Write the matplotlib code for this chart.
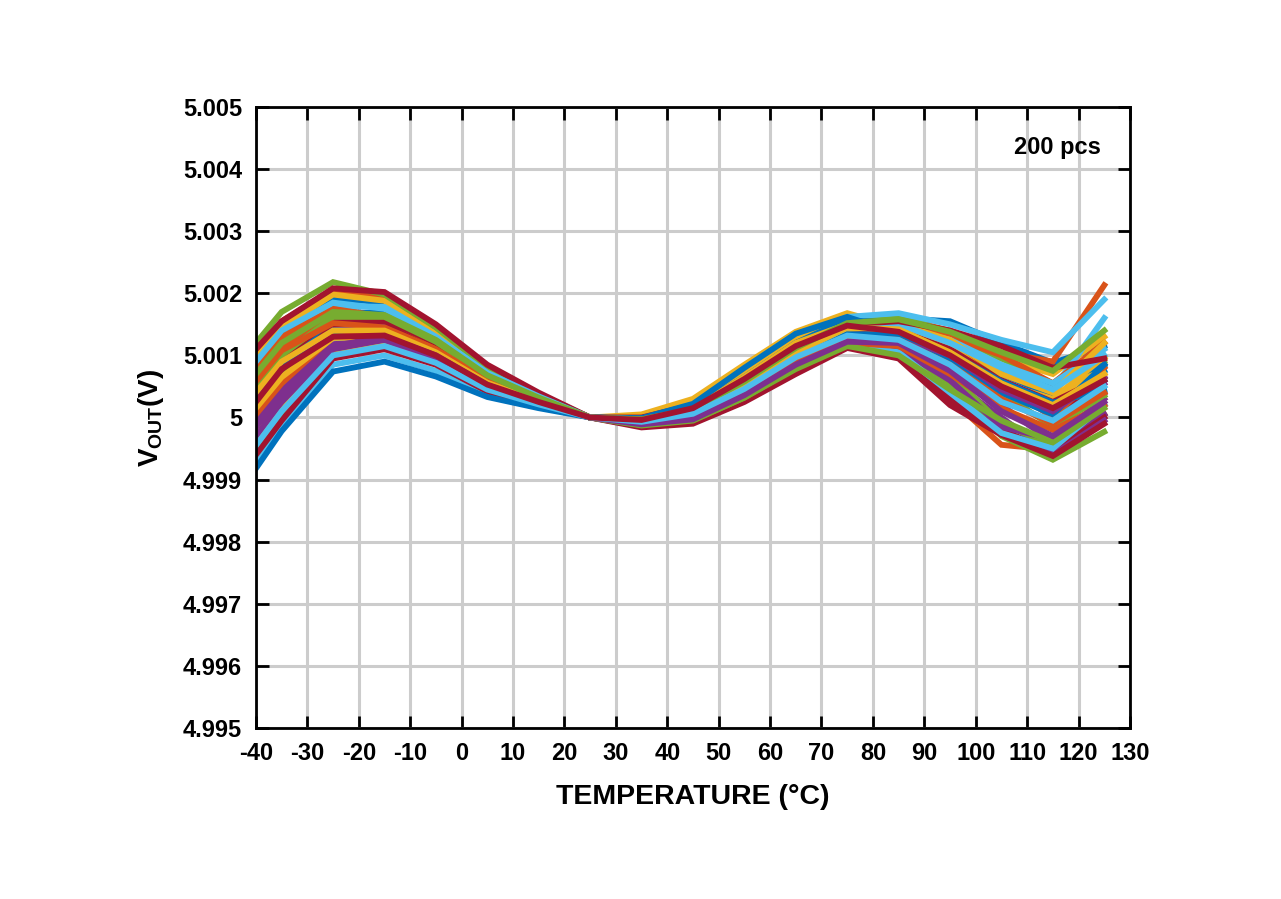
import numpy as np
import matplotlib
matplotlib.use("Agg")
from matplotlib import pyplot as plt
from matplotlib import font_manager

# 字体: 优先用窄体粗体
names = {f.name for f in font_manager.fontManager.ttflist}
fam = 'Liberation Sans Narrow' if 'Liberation Sans Narrow' in names else 'Liberation Sans'
plt.rcParams['font.family'] = [fam, 'DejaVu Sans']
plt.rcParams['font.weight'] = 'bold'
plt.rcParams['mathtext.fontset'] = 'custom'
plt.rcParams['mathtext.rm'] = fam + ':bold'

temp_c = [-40, -35, -25, -15, -5, 5, 15, 25, 35, 45, 55, 65, 75, 85, 95, 105, 115, 125]

# offset from 5 V, in mV
vout_mv = [
    [0.85, 1.35, 1.92, 1.85, 1.35, 0.75, 0.35, 0, -0.08, 0.05, 0.45, 1.00, 1.55, 1.60, 1.55, 1.20, 0.88, 1.15],
    [1.00, 1.55, 2.05, 1.92, 1.40, 0.78, 0.36, 0, -0.05, 0.10, 0.55, 1.10, 1.50, 1.60, 1.40, 1.05, 0.90, 2.13],
    [0.95, 1.45, 1.98, 1.88, 1.35, 0.72, 0.33, 0, 0.05, 0.30, 0.85, 1.38, 1.68, 1.45, 1.25, 0.95, 0.70, 1.30],
    [0.60, 1.10, 1.62, 1.55, 1.15, 0.62, 0.30, 0, -0.06, 0.08, 0.50, 1.05, 1.40, 1.35, 1.00, 0.55, 0.15, 0.55],
    [1.20, 1.70, 2.18, 1.98, 1.45, 0.80, 0.38, 0, -0.02, 0.15, 0.60, 1.15, 1.50, 1.65, 1.35, 0.95, 0.55, 0.90],
    [0.70, 1.25, 1.80, 1.78, 1.30, 0.70, 0.33, 0, -0.02, 0.18, 0.70, 1.25, 1.62, 1.68, 1.50, 1.25, 1.05, 1.90],
    [1.10, 1.55, 2.08, 2.02, 1.50, 0.85, 0.40, 0, 0.00, 0.20, 0.70, 1.25, 1.55, 1.50, 1.10, 0.60, 0.10, 0.40],
    [0.40, 0.95, 1.55, 1.50, 1.12, 0.60, 0.28, 0, -0.10, 0.00, 0.40, 0.95, 1.30, 1.40, 1.10, 0.70, 0.35, 0.75],
    [0.50, 1.00, 1.58, 1.52, 1.10, 0.58, 0.28, 0, -0.08, 0.02, 0.35, 0.80, 1.20, 1.10, 0.30, -0.44, -0.52, 0.05],
    [0.10, 0.60, 1.20, 1.30, 1.00, 0.52, 0.25, 0, -0.04, 0.12, 0.60, 1.15, 1.45, 1.30, 0.95, 0.45, 0.20, 0.95],
    [0.30, 0.80, 1.45, 1.48, 1.08, 0.58, 0.27, 0, -0.12, -0.02, 0.38, 0.90, 1.25, 1.20, 0.80, 0.20, -0.40, 0.05],
    [-0.40, 0.25, 1.10, 1.20, 0.92, 0.48, 0.22, 0, -0.10, 0.00, 0.42, 0.95, 1.25, 1.10, 0.55, -0.30, -0.68, -0.23],
    [0.00, 0.50, 1.25, 1.40, 1.05, 0.55, 0.26, 0, -0.06, 0.10, 0.55, 1.10, 1.45, 1.50, 1.20, 0.75, 0.45, 1.60],
    [0.75, 1.25, 1.72, 1.65, 1.25, 0.68, 0.32, 0, -0.08, 0.05, 0.45, 0.95, 1.15, 1.05, 0.30, -0.20, -0.55, 0.00],
    [0.55, 1.05, 1.70, 1.68, 1.25, 0.66, 0.31, 0, -0.04, 0.12, 0.60, 1.15, 1.55, 1.55, 1.30, 0.80, 0.55, 0.85],
    [0.80, 1.30, 1.75, 1.62, 1.22, 0.66, 0.31, 0, -0.10, 0.00, 0.38, 0.85, 1.35, 1.50, 1.30, 1.00, 0.55, 1.20],
    [-0.20, 0.30, 1.15, 1.28, 0.98, 0.50, 0.24, 0, -0.02, 0.20, 0.75, 1.30, 1.55, 1.35, 1.05, 0.45, 0.10, 0.70],
    [0.20, 0.70, 1.38, 1.40, 1.02, 0.55, 0.26, 0, -0.14, -0.05, 0.30, 0.78, 1.18, 1.10, 0.60, 0.00, -0.60, -0.05],
    [-0.55, 0.05, 0.98, 1.15, 0.90, 0.46, 0.21, 0, -0.06, 0.08, 0.50, 1.00, 1.35, 1.25, 0.70, -0.10, -0.45, 0.20],
    [-0.10, 0.40, 1.20, 1.38, 1.02, 0.54, 0.25, 0, -0.08, 0.04, 0.45, 0.98, 1.40, 1.45, 1.25, 0.85, 0.55, 1.10],
    [0.25, 0.75, 1.50, 1.55, 1.15, 0.62, 0.29, 0, -0.16, -0.10, 0.25, 0.70, 1.12, 0.95, 0.20, -0.28, -0.62, -0.10],
    [0.35, 0.85, 1.60, 1.60, 1.20, 0.64, 0.30, 0, -0.02, 0.15, 0.65, 1.20, 1.58, 1.45, 1.15, 0.60, 0.20, 0.60],
    [0.65, 1.15, 1.68, 1.60, 1.18, 0.64, 0.30, 0, -0.06, 0.06, 0.45, 0.95, 1.40, 1.45, 1.20, 0.55, 0.00, 0.80],
    [-0.35, 0.15, 1.05, 1.22, 0.95, 0.48, 0.23, 0, -0.04, 0.15, 0.65, 1.20, 1.50, 1.40, 1.15, 0.55, 0.30, 0.98],
    [-0.05, 0.45, 1.18, 1.25, 0.95, 0.50, 0.23, 0, -0.08, 0.05, 0.48, 1.00, 1.30, 1.15, 0.60, -0.15, -0.35, 0.30],
    [0.15, 0.65, 1.35, 1.42, 1.05, 0.56, 0.26, 0, -0.12, -0.04, 0.32, 0.80, 1.25, 1.30, 0.95, 0.40, -0.15, 0.35],
    [-0.75, -0.15, 0.85, 1.00, 0.75, 0.38, 0.18, 0, -0.10, -0.02, 0.35, 0.88, 1.18, 1.05, 0.40, -0.25, -0.50, 0.20],
    [0.45, 0.95, 1.60, 1.58, 1.20, 0.65, 0.30, 0, -0.02, 0.14, 0.58, 1.08, 1.45, 1.40, 1.10, 0.60, 0.25, 0.65],
    [0.30, 0.85, 1.40, 1.38, 1.05, 0.55, 0.26, 0, -0.01, 0.22, 0.80, 1.35, 1.62, 1.35, 0.95, 0.40, 0.05, 0.85],
    [0.05, 0.55, 1.30, 1.35, 1.00, 0.54, 0.25, 0, -0.10, 0.02, 0.40, 0.90, 1.20, 1.15, 0.70, 0.15, -0.20, 0.20],
    [0.15, 0.65, 1.28, 1.30, 0.98, 0.52, 0.24, 0, -0.07, 0.06, 0.48, 1.02, 1.42, 1.50, 1.25, 0.70, 0.40, 1.20],
    [-0.30, 0.25, 1.10, 1.25, 0.95, 0.50, 0.23, 0, -0.09, 0.03, 0.42, 0.92, 1.30, 1.30, 1.00, 0.45, 0.10, 0.65],
    [0.50, 1.00, 1.62, 1.62, 1.22, 0.66, 0.31, 0, -0.13, -0.05, 0.32, 0.78, 1.15, 1.00, 0.45, -0.05, -0.40, 0.15],
    [0.90, 1.40, 1.85, 1.75, 1.30, 0.72, 0.34, 0, -0.03, 0.12, 0.55, 1.05, 1.45, 1.50, 1.20, 0.80, 0.45, 1.00],
    [-0.60, -0.05, 0.95, 1.10, 0.85, 0.42, 0.20, 0, -0.03, 0.12, 0.55, 1.08, 1.50, 1.55, 1.40, 1.15, 0.80, 0.95],
    [-0.82, -0.22, 0.74, 0.90, 0.66, 0.33, 0.15, 0, -0.06, 0.04, 0.44, 0.94, 1.34, 1.34, 1.04, 0.58, 0.24, 0.44],
    [0.58, 1.08, 1.52, 1.45, 1.10, 0.60, 0.28, 0, -0.09, 0.03, 0.40, 0.90, 1.28, 1.25, 0.85, 0.30, -0.10, 0.40],
    [0.40, 0.90, 1.40, 1.40, 1.05, 0.56, 0.26, 0, -0.05, 0.10, 0.52, 1.05, 1.45, 1.42, 1.05, 0.55, 0.20, 0.70],
    [-0.15, 0.35, 1.15, 1.30, 1.00, 0.52, 0.24, 0, -0.11, -0.03, 0.36, 0.85, 1.22, 1.20, 0.75, 0.10, -0.30, 0.25],
    [0.70, 1.20, 1.70, 1.65, 1.25, 0.68, 0.32, 0, -0.03, 0.13, 0.58, 1.12, 1.52, 1.58, 1.38, 1.05, 0.75, 1.40],
    [-0.45, 0.10, 1.00, 1.15, 0.88, 0.45, 0.21, 0, -0.07, 0.06, 0.46, 0.97, 1.32, 1.25, 0.85, 0.25, -0.05, 0.50],
    [0.25, 0.78, 1.30, 1.32, 1.00, 0.53, 0.25, 0, -0.04, 0.15, 0.62, 1.15, 1.48, 1.38, 1.00, 0.50, 0.15, 0.60],
]

colors = ['#0072BD', '#D95319', '#EDB120', '#7E2F8E', '#77AC30', '#4DBEEE', '#A2142F']

x_ticks = list(range(-40, 131, 10))
y_ticks = [4.995, 4.996, 4.997, 4.998, 4.999, 5.0, 5.001, 5.002, 5.003, 5.004, 5.005]
y_labels = ['4.995', '4.996', '4.997', '4.998', '4.999', '5', '5.001', '5.002', '5.003', '5.004', '5.005']


def main():
    fig = plt.figure(figsize=(12.81, 8.99), dpi=100)
    ax = fig.add_axes([0.1998, 0.1902, 0.6823, 0.6908])

    for i, mv in enumerate(vout_mv):
        v = 5.0 + np.array(mv) / 1000.0
        ax.plot(temp_c, v, color=colors[i % len(colors)], lw=4.2, solid_joinstyle='miter', zorder=3)

    ax.set_xlim(-40, 130)
    ax.set_ylim(4.995, 5.005)
    ax.set_xticks(x_ticks)
    ax.set_xticklabels([str(t) for t in x_ticks])
    ax.set_yticks(y_ticks)
    ax.set_yticklabels(y_labels)
    ax.grid(True, color='#cccccc', lw=2.2, zorder=0)
    ax.set_axisbelow(True)
    ax.tick_params(direction='in', length=9, width=2, top=True, right=True,
                   labelsize=17, pad=10)
    for lab in ax.get_xticklabels() + ax.get_yticklabels():
        lab.set_fontweight('bold')
    for s in ax.spines.values():
        s.set_linewidth(2)
        s.set_zorder(5)

    ax.set_xlabel('TEMPERATURE (°C)', fontsize=20.5, fontweight='bold', labelpad=14)
    ax.set_ylabel(r'$\mathregular{V_{OUT}(V)}$', fontsize=20, fontweight='bold', labelpad=12)
    ax.text(0.967, 0.935, '200 pcs', transform=ax.transAxes, ha='right', va='center',
            fontsize=17, fontweight='bold')

    fig.savefig('out.png', dpi=100)


if __name__ == '__main__':
    main()
